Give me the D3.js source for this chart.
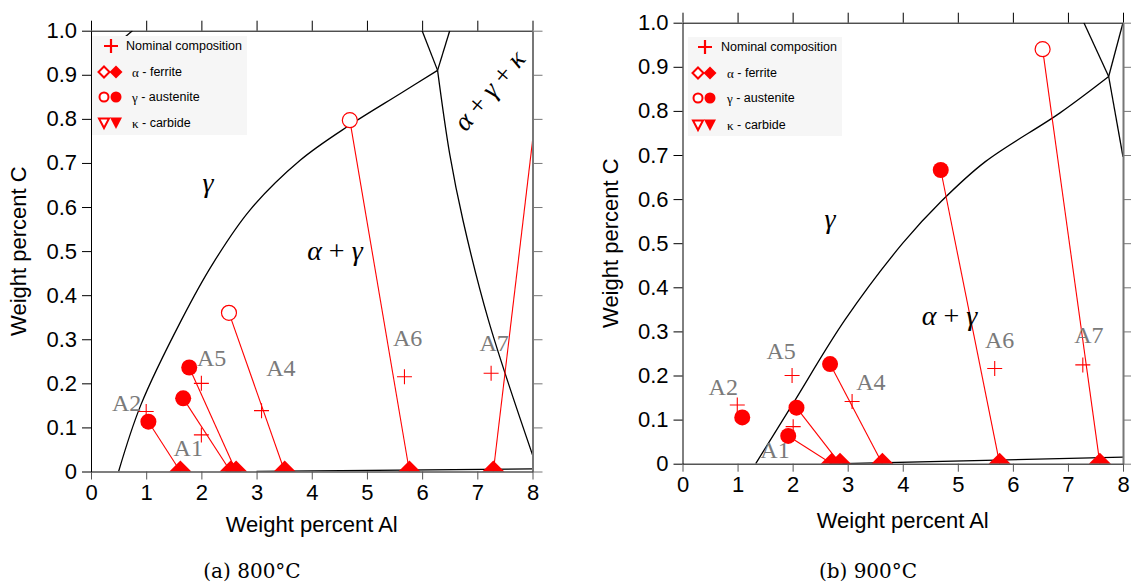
<!DOCTYPE html>
<html><head><meta charset="utf-8">
<script src="https://cdn.jsdelivr.net/npm/d3@7"></script>
<style>body{margin:0;background:#fff;} svg{display:block;}</style>
</head><body>
<svg id="chart" width="1131" height="583"></svg>
<script>
// ---------- shared ticks ----------
const xTicks = [0, 1, 2, 3, 4, 5, 6, 7, 8];
const yTicks = [0, 0.1, 0.2, 0.3, 0.4, 0.5, 0.6, 0.7, 0.8, 0.9, 1.0];
const yTickLabels = ["0", "0.1", "0.2", "0.3", "0.4", "0.5", "0.6", "0.7", "0.8", "0.9", "1.0"];
const legendLabels = [["", "Nominal composition"], ["α", " - ferrite"], ["γ", " - austenite"], ["κ", " - carbide"]];
const captions = ["(a) 800°C", "(b) 900°C"];

// ---------- 800 °C ----------
const sampleNames800 = ["A1", "A2", "A4", "A5", "A6", "A7"];
const sampleLabelPos800 = [[1.763, 0.053], [0.646, 0.155], [3.44, 0.234], [2.187, 0.257], [5.737, 0.302], [7.306, 0.292]];
const nominal800 = [[2.0, 0.083], [1.0, 0.136], [3.09, 0.138], [2.0, 0.2], [5.68, 0.215], [7.25, 0.223]];
const austeniteFilled800 = [[1.04, 0.113], [1.67, 0.166], [1.78, 0.236]];
const austeniteOpen800 = [[2.5, 0.36], [4.69, 0.797]];
const ferriteAl800 = [1.62, 2.53, 2.63, 3.51, 5.77, 7.29];
const ties800 = [
  [[1.04, 0.113], [1.62, 0]],
  [[1.67, 0.166], [2.53, 0]],
  [[1.78, 0.236], [2.63, 0]],
  [[2.5, 0.36], [3.51, 0]],
  [[4.69, 0.797], [5.77, 0]],
  [[7.29, 0], [8.3, 1.066]]
];
const gammaBoundary800 = [[0.5, 0], [0.9, 0.15], [1.64, 0.344], [2.2, 0.47], [2.88, 0.593], [3.79, 0.706], [4.69, 0.786], [5.6, 0.857], [6.28, 0.91]];
const kappaBoundary800 = [[6.28, 0.91], [6.5, 0.72], [6.74, 0.57], [7.2, 0.344], [8.0, 0.038]];
const topLineA800 = [[6.0, 1.0], [6.28, 0.91]];
const topLineB800 = [[6.5, 1.0], [6.28, 0.91]];
const alphaBoundary800 = [[3.0, 0], [8.0, 0.006]];
const cornerLine800 = [[0, 0.92], [0.75, 1.0]];
const regionLabels800 = [
  {parts: [["γ", true]], at: [2.12, 0.656], rot: 0, size: 28},
  {parts: [["α", true], [" + ", false], ["γ", true]], at: [4.42, 0.502], rot: 0, size: 28},
  {parts: [["α", true], [" + ", false], ["γ", true], [" + ", false], ["κ", true]], at: [7.22, 0.865], rot: -50, size: 27}
];

// ---------- 900 °C ----------
const sampleNames900 = ["A1", "A2", "A4", "A5", "A6", "A7"];
const sampleLabelPos900 = [[1.68, 0.031], [0.74, 0.175], [3.42, 0.186], [1.79, 0.256], [5.76, 0.28], [7.38, 0.292]];
const nominal900 = [[2.01, 0.084], [0.995, 0.133], [3.08, 0.141], [1.99, 0.2], [5.67, 0.216], [7.27, 0.224]];
const austeniteFilled900 = [[1.085, 0.105], [1.92, 0.063], [2.07, 0.127], [2.68, 0.226], [4.69, 0.666]];
const austeniteOpen900 = [[6.54, 0.94]];
const ferriteAl900 = [2.71, 2.86, 3.63, 5.76, 7.58];
const ties900 = [
  [[1.92, 0.063], [2.71, 0]],
  [[2.07, 0.127], [2.86, 0]],
  [[2.68, 0.226], [3.63, 0]],
  [[4.69, 0.666], [5.76, 0]],
  [[6.54, 0.94], [7.58, 0]]
];
const gammaBoundary900 = [[1.33, 0], [2.0, 0.135], [2.95, 0.326], [4.0, 0.5], [4.7, 0.595], [5.5, 0.685], [6.85, 0.795], [7.74, 0.878]];
const topLineA900 = [[7.29, 1.0], [7.74, 0.878]];
const topLineB900 = [[7.74, 0.878], [8.0, 1.0]];
const kappaBoundary900 = [[7.74, 0.878], [8.0, 0.696]];
const alphaBoundary900 = [[2.9, 0], [8.0, 0.015]];
const regionLabels900 = [
  {parts: [["γ", true]], at: [2.68, 0.557], rot: 0, size: 28},
  {parts: [["α", true], [" + ", false], ["γ", true]], at: [4.85, 0.337], rot: 0, size: 28}
];

const SANS = "'Liberation Sans', Arial, sans-serif";
const SERIF = "'Liberation Serif', 'Times New Roman', serif";
const RED = "#ff0000";

const svg = d3.select("#chart");

function drawPanel(p) {
  const x = d3.scaleLinear().domain([0, 8]).range([p.left, p.right]);
  const y = d3.scaleLinear().domain([0, 1]).range([p.bottom, p.top]);
  const g = svg.append("g");
  const clipId = "clip" + p.id;
  g.append("clipPath").attr("id", clipId).append("rect")
    .attr("x", p.left).attr("y", p.top).attr("width", p.right - p.left).attr("height", p.bottom - p.top);
  const plot = g.append("g").attr("clip-path", `url(#${clipId})`);

  const straight = d3.line().x(d => x(d[0])).y(d => y(d[1]));
  const smooth = d3.line().curve(d3.curveCatmullRom.alpha(0.5)).x(d => x(d[0])).y(d => y(d[1]));

  p.boundaries.forEach(b => {
    plot.append("path").attr("d", (b.length > 2 ? smooth : straight)(b))
      .attr("fill", "none").attr("stroke", "#000").attr("stroke-width", 1.3);
  });
  p.ties.forEach(t => {
    plot.append("path").attr("d", straight(t)).attr("fill", "none")
      .attr("stroke", RED).attr("stroke-width", 1.1);
  });

  // ferrite diamonds (clipped at x-axis)
  plot.selectAll(null).data(p.ferrite).join("path")
    .attr("transform", d => `translate(${x(d)},${y(0)})`)
    .attr("d", "M0,-11L11,0L0,11L-11,0Z").attr("fill", RED);
  // filled austenite
  plot.selectAll(null).data(p.filled).join("circle")
    .attr("cx", d => x(d[0])).attr("cy", d => y(d[1])).attr("r", 8).attr("fill", RED);
  // open austenite
  plot.selectAll(null).data(p.open).join("circle")
    .attr("cx", d => x(d[0])).attr("cy", d => y(d[1])).attr("r", 7.5)
    .attr("fill", "#fff").attr("stroke", RED).attr("stroke-width", 1.2);
  // nominal composition
  plot.selectAll(null).data(p.nominal).join("path")
    .attr("transform", d => `translate(${x(d[0])},${y(d[1])})`)
    .attr("d", "M-7.5,0H7.5M0,-7.5V7.5").attr("stroke", RED).attr("stroke-width", 1.1).attr("fill", "none");

  // legend
  const L = p.legend;
  const lg = g.append("g");
  lg.append("rect").attr("x", L.x).attr("y", L.y).attr("width", L.w).attr("height", L.h).attr("fill", "#f6f6f6");
  legendLabels.forEach((lab, i) => {
    const cy = L.rows[i];
    if (i === 0) {
      lg.append("path").attr("transform", `translate(${L.sx + 7},${cy})`)
        .attr("d", "M-7,0H7M0,-7V7").attr("stroke", RED).attr("stroke-width", 2.2);
    } else {
      const a = L.sx, b = L.sx + 12;
      if (i === 1) {
        lg.append("path").attr("transform", `translate(${a},${cy})`).attr("d", "M0,-5.5L5.5,0L0,5.5L-5.5,0Z")
          .attr("fill", "#fff").attr("stroke", RED).attr("stroke-width", 2);
        lg.append("path").attr("transform", `translate(${b},${cy})`).attr("d", "M0,-6.5L6.5,0L0,6.5L-6.5,0Z").attr("fill", RED);
      } else if (i === 2) {
        lg.append("circle").attr("cx", a).attr("cy", cy).attr("r", 4.5)
          .attr("fill", "#fff").attr("stroke", RED).attr("stroke-width", 2);
        lg.append("circle").attr("cx", b).attr("cy", cy).attr("r", 5.5).attr("fill", RED);
      } else {
        lg.append("path").attr("transform", `translate(${a},${cy})`).attr("d", "M-5,-4.5L5,-4.5L0,5Z")
          .attr("fill", "#fff").attr("stroke", RED).attr("stroke-width", 2);
        lg.append("path").attr("transform", `translate(${b},${cy})`).attr("d", "M-6,-5.5L6,-5.5L0,6Z").attr("fill", RED);
      }
    }
    const t = lg.append("text").attr("x", i === 0 ? L.tx0 : L.tx).attr("y", cy)
      .attr("dominant-baseline", "central").attr("font-family", SANS).attr("font-size", 12.5).attr("fill", "#000");
    if (lab[0]) t.append("tspan").attr("font-family", SERIF).attr("font-size", 13).text(lab[0]);
    t.append("tspan").text(lab[1]);
  });

  // sample labels
  g.selectAll(null).data(p.names).join("text")
    .attr("x", (d, i) => x(p.namePos[i][0])).attr("y", (d, i) => y(p.namePos[i][1]))
    .attr("text-anchor", "middle").attr("dominant-baseline", "central")
    .attr("font-family", SERIF).attr("font-size", 24).attr("fill", "#7a7a7a").text(d => d);

  // region labels
  p.regions.forEach(r => {
    const t = g.append("text")
      .attr("transform", `translate(${x(r.at[0])},${y(r.at[1])}) rotate(${r.rot})`)
      .attr("text-anchor", "middle").attr("dominant-baseline", "central")
      .attr("font-family", SERIF).attr("font-size", r.size).attr("fill", "#000");
    r.parts.forEach(pt => t.append("tspan").attr("font-style", pt[1] ? "italic" : "normal").text(pt[0]));
  });

  // axes
  const styleAxis = (sel, col) => {
    sel.select(".domain").attr("stroke", col);
    sel.selectAll(".tick line").attr("stroke", col);
    sel.selectAll("text").attr("font-family", SANS).attr("font-size", 22).attr("fill", "#000");
  };
  g.append("g").attr("transform", `translate(0,${p.top})`)
    .call(d3.axisTop(x).tickValues(xTicks).tickSize(10).tickSizeOuter(0).tickFormat(""))
    .call(s => styleAxis(s, "#000"));
  g.append("g").attr("transform", `translate(${p.right},0)`)
    .call(d3.axisRight(y).tickValues(yTicks).tickSize(10).tickSizeOuter(0).tickFormat(""))
    .call(s => { styleAxis(s, "#777"); s.select(".domain").attr("stroke-width", 2); });
  g.append("g").attr("transform", `translate(0,${p.bottom})`)
    .call(d3.axisBottom(x).tickValues(xTicks).tickSize(8).tickSizeOuter(0).tickPadding(5))
    .call(s => { styleAxis(s, "#555"); s.select(".domain").attr("stroke-width", 1.5); });
  g.append("g").attr("transform", `translate(${p.left},0)`)
    .call(d3.axisLeft(y).tickValues(yTicks).tickSize(9).tickSizeOuter(0).tickPadding(5)
      .tickFormat((d, i) => yTickLabels[i]))
    .call(s => styleAxis(s, "#000"));

  // axis titles
  g.append("text").attr("x", (p.left + p.right) / 2).attr("y", p.bottom + p.xTitleOff)
    .attr("text-anchor", "middle").attr("font-family", SANS).attr("font-size", 22).text("Weight percent Al");
  g.append("text").attr("transform", `translate(${p.left - 65},${(p.top + p.bottom) / 2}) rotate(-90)`)
    .attr("text-anchor", "middle").attr("font-family", SANS).attr("font-size", 22).text("Weight percent C");

  // caption
  g.append("text").attr("x", p.capX).attr("y", 578).attr("text-anchor", "middle")
    .attr("font-family", "'DejaVu Serif', serif").attr("font-size", 20).text(p.caption);
}

drawPanel({
  id: "a", left: 91, right: 532.5, top: 30.7, bottom: 471.5, xTitleOff: 60,
  boundaries: [gammaBoundary800, kappaBoundary800, topLineA800, topLineB800, alphaBoundary800, cornerLine800],
  ties: ties800, ferrite: ferriteAl800, filled: austeniteFilled800, open: austeniteOpen800, nominal: nominal800,
  names: sampleNames800, namePos: sampleLabelPos800, regions: regionLabels800,
  legend: {x: 92, y: 36, w: 155, h: 99, sx: 104, tx0: 126, tx: 132, rows: [46, 72, 97, 123]},
  caption: captions[0], capX: 252
});
drawPanel({
  id: "b", left: 682.5, right: 1123, top: 22.7, bottom: 463.7, xTitleOff: 64,
  boundaries: [gammaBoundary900, topLineA900, topLineB900, kappaBoundary900, alphaBoundary900],
  ties: ties900, ferrite: ferriteAl900, filled: austeniteFilled900, open: austeniteOpen900, nominal: nominal900,
  names: sampleNames900, namePos: sampleLabelPos900, regions: regionLabels900,
  legend: {x: 688, y: 37, w: 154, h: 99, sx: 698, tx0: 721, tx: 727, rows: [47, 73, 98, 125]},
  caption: captions[1], capX: 868
});
</script>
</body></html>
